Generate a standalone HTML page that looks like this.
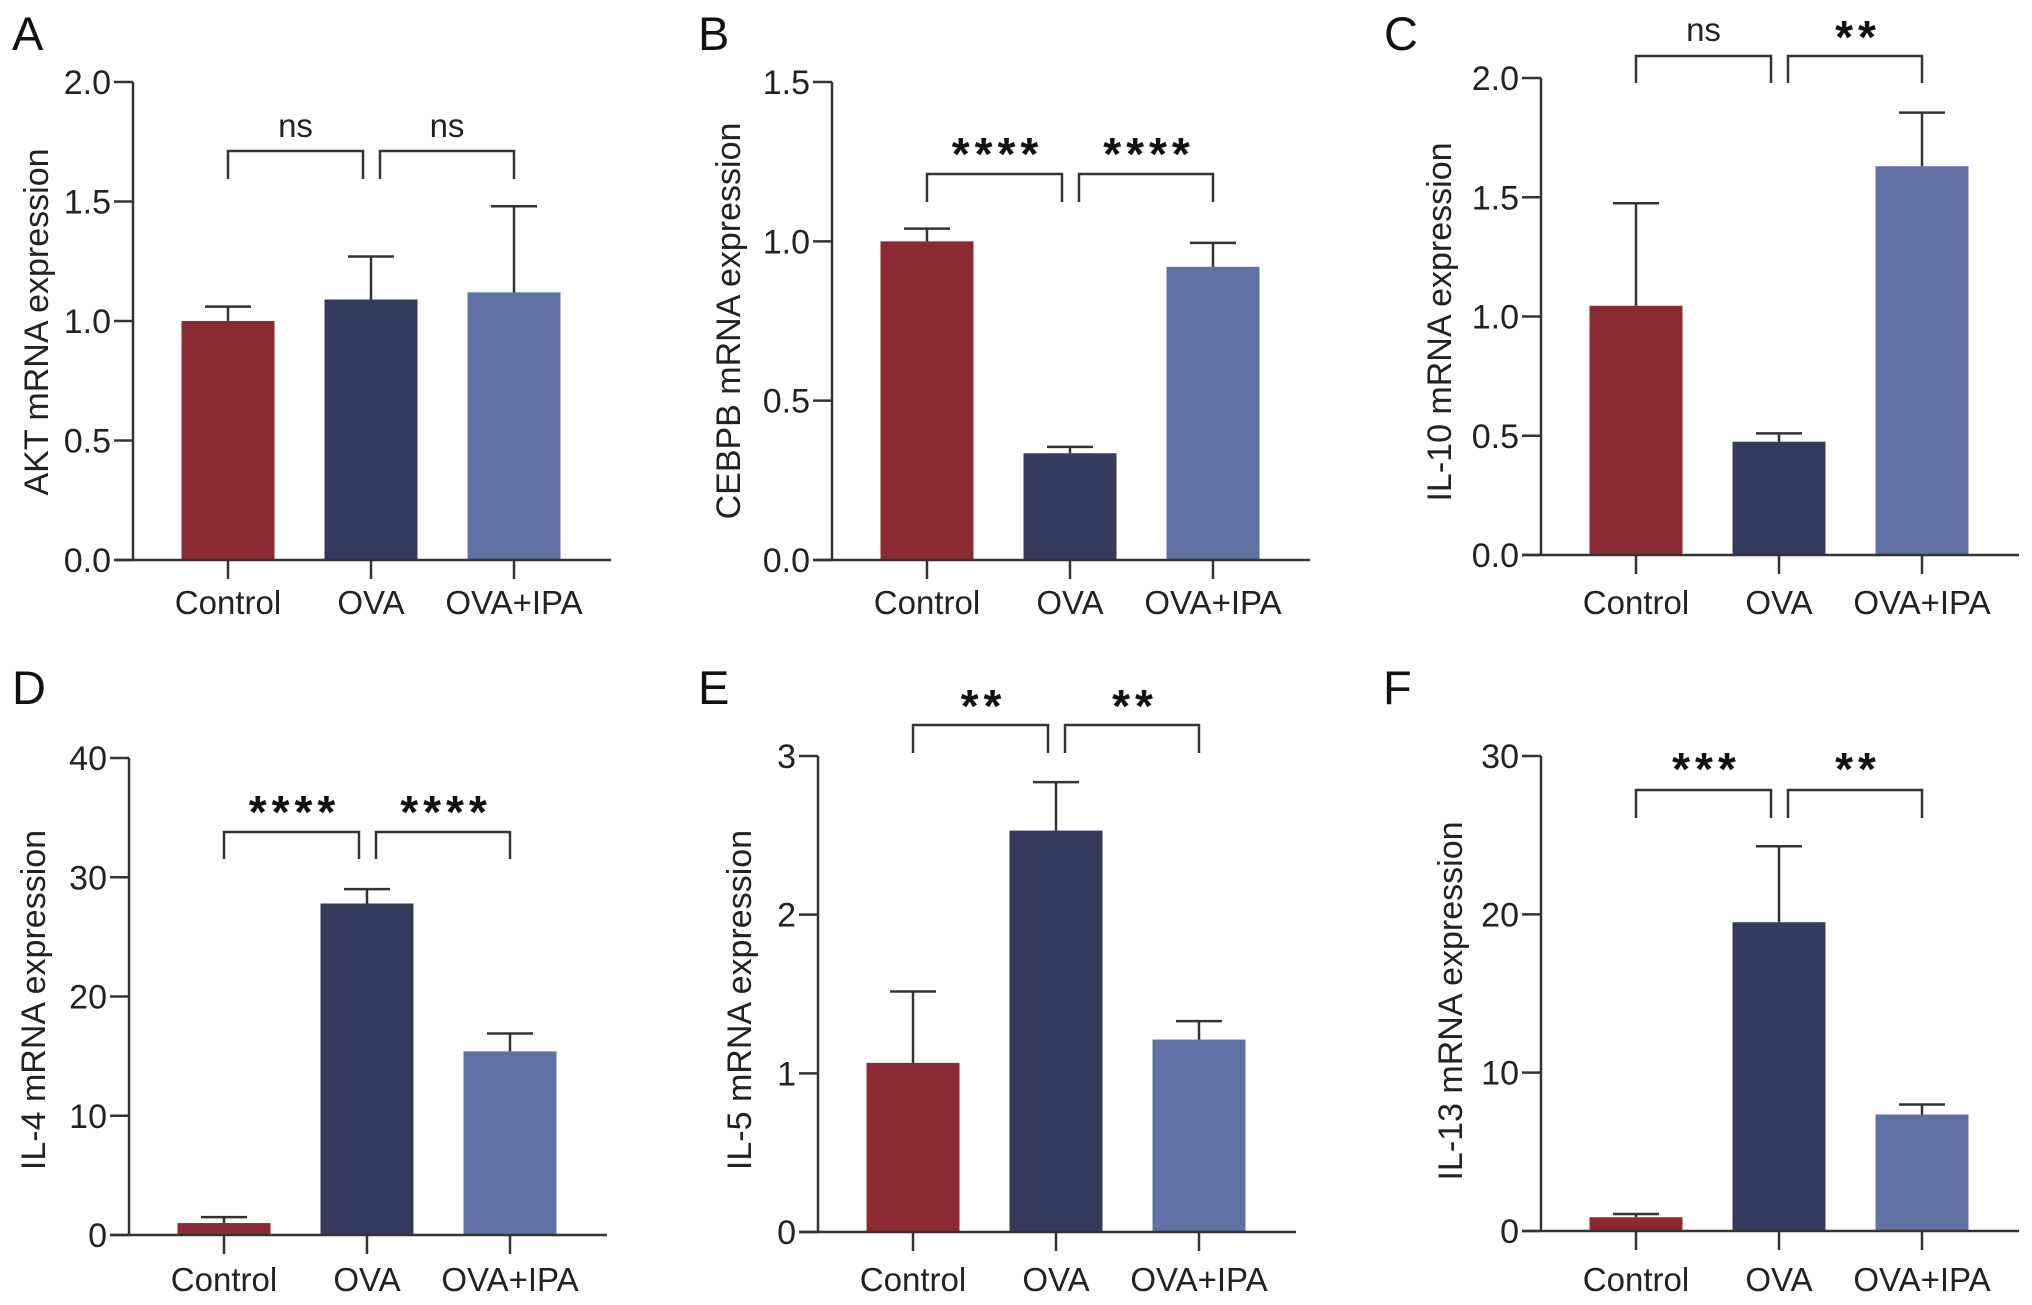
<!DOCTYPE html>
<html><head><meta charset="utf-8"><style>
html,body{margin:0;padding:0;background:#fff;}
svg{display:block;font-family:"Liberation Sans",Arial,sans-serif;}
</style></head><body>
<svg id="fig" width="2032" height="1305" viewBox="0 0 2032 1305" xmlns="http://www.w3.org/2000/svg"></svg>
<script>
const categories = ["Control","OVA","OVA+IPA"];
const aktMeans = [1.0, 1.09, 1.12];
const aktErrors = [0.06, 0.18, 0.36];
const cebpbMeans = [1.0, 0.335, 0.92];
const cebpbErrors = [0.04, 0.02, 0.075];
const il10Means = [1.045, 0.475, 1.63];
const il10Errors = [0.43, 0.035, 0.225];
const il4Means = [1.0, 27.8, 15.4];
const il4Errors = [0.5, 1.2, 1.5];
const il5Means = [1.066, 2.53, 1.213];
const il5Errors = [0.45, 0.305, 0.116];
const il13Means = [0.87, 19.5, 7.36];
const il13Errors = [0.2, 4.8, 0.63];
const aktTicks = ["0.0","0.5","1.0","1.5","2.0"];
const cebpbTicks = ["0.0","0.5","1.0","1.5"];
const il10Ticks = ["0.0","0.5","1.0","1.5","2.0"];
const il4Ticks = ["0","10","20","30","40"];
const il5Ticks = ["0","1","2","3"];
const il13Ticks = ["0","10","20","30"];
const aktSig = ["ns","ns"];
const cebpbSig = ["****","****"];
const il10Sig = ["ns","**"];
const il4Sig = ["****","****"];
const il5Sig = ["**","**"];
const il13Sig = ["***","**"];

const colors = ["#8c2a31","#353b5c","#5f72a3"];
const NS = "http://www.w3.org/2000/svg";
const svg = document.getElementById('fig');
function mk(tag, attrs, parent, text){
  const e = document.createElementNS(NS, tag);
  for (const k in attrs) e.setAttribute(k, attrs[k]);
  if (text !== undefined) e.textContent = text;
  (parent||svg).appendChild(e);
  return e;
}
const panels = [
  {id:"akt", letter:"A", title:"AKT mRNA expression", means:aktMeans, errs:aktErrors, ticks:aktTicks, sig:aktSig,
   ax:133, y0:560, yTop:82, lx:12, ly:50, tx:36, ty:322, labY:614, brY:151, brDrop:28, sigY:[137,137]},
  {id:"cebpb", letter:"B", title:"CEBPB mRNA expression", means:cebpbMeans, errs:cebpbErrors, ticks:cebpbTicks, sig:cebpbSig,
   ax:832, y0:560, yTop:82, lx:698, ly:50, tx:728, ty:321, labY:614, brY:174, brDrop:28, sigY:[144,144]},
  {id:"il10", letter:"C", title:"IL-10 mRNA expression", means:il10Means, errs:il10Errors, ticks:il10Ticks, sig:il10Sig,
   ax:1541, y0:555, yTop:78, lx:1384, ly:50, tx:1439, ty:322, labY:614, brY:56, brDrop:27, sigY:[41,27]},
  {id:"il4", letter:"D", title:"IL-4 mRNA expression", means:il4Means, errs:il4Errors, ticks:il4Ticks, sig:il4Sig,
   ax:129, y0:1235, yTop:758, lx:12, ly:704, tx:33, ty:1000, labY:1291, brY:832, brDrop:27, sigY:[802,802]},
  {id:"il5", letter:"E", title:"IL-5 mRNA expression", means:il5Means, errs:il5Errors, ticks:il5Ticks, sig:il5Sig,
   ax:818, y0:1232, yTop:756, lx:698, ly:704, tx:739, ty:1000, labY:1291, brY:725, brDrop:28, sigY:[696,696]},
  {id:"il13", letter:"F", title:"IL-13 mRNA expression", means:il13Means, errs:il13Errors, ticks:il13Ticks, sig:il13Sig,
   ax:1541, y0:1231, yTop:756, lx:1383, ly:704, tx:1450, ty:1001, labY:1291, brY:790, brDrop:28, sigY:[759,759]}
];
const stroke = "#333";
panels.forEach(p => {
  const g = mk('g', {});
  
  
  const tmin = parseFloat(p.ticks[0]), tmax = parseFloat(p.ticks[p.ticks.length-1]);
  const yS = v => p.y0 - (v - tmin) / (tmax - tmin) * (p.y0 - p.yTop);
  const xS = i => p.ax + 95 + i * 143;
  const bw = 93;
  const L = mk('text', {x:p.lx, y:p.ly, 'font-size':47, fill:'#111'}, g, p.letter);
  
  
  p.means.forEach((m, i) => {
    const r = mk('rect', {x:xS(i)-bw/2, y:yS(m), width:bw, height:p.y0 - yS(m), fill:colors[i]}, g);
    
    
    const top = yS(m + p.errs[i]);
    const e = mk('path', {d:`M${xS(i)} ${yS(m)}V${top}M${xS(i)-23} ${top}H${xS(i)+23}`, stroke:stroke, 'stroke-width':2.5, fill:'none'}, g);
    
    
  });
  const ya = mk('path', {d:`M${p.ax} ${p.yTop}V${p.y0}`, stroke:stroke, 'stroke-width':2.5, fill:'none'}, g);
  
  
  const xa = mk('path', {d:`M${p.ax-19} ${p.y0}H${p.ax+478}`, stroke:stroke, 'stroke-width':2.5, fill:'none'}, g);
  
  
  p.ticks.forEach(t => {
    const y = yS(parseFloat(t));
    mk('path', {d:`M${p.ax-19} ${y}H${p.ax}`, stroke:stroke, 'stroke-width':2.5}, g);
    const tl = mk('text', {x:p.ax-22, y:y+12, 'font-size':34, 'text-anchor':'end', fill:'#222'}, g, t);
    
    
  });
  categories.forEach((c, i) => {
    mk('path', {d:`M${xS(i)} ${p.y0}V${p.y0+19}`, stroke:stroke, 'stroke-width':2.5}, g);
    const cl = mk('text', {x:xS(i), y:p.labY, 'font-size':33, 'text-anchor':'middle', fill:'#222'}, g, c);
    
    
  });
  const tt = mk('text', {x:0, y:0, 'font-size':34, 'text-anchor':'middle', fill:'#222', transform:`translate(${p.tx+12},${p.ty}) rotate(-90)`}, g, p.title);
  
  
  const pairs = [[xS(0), xS(1)-8], [xS(1)+9, xS(2)]];
  pairs.forEach((pr, k) => {
    const b = mk('path', {d:`M${pr[0]} ${p.brY+p.brDrop}V${p.brY}H${pr[1]}V${p.brY+p.brDrop}`, stroke:stroke, 'stroke-width':2.5, fill:'none'}, g);
    
    
    const s = p.sig[k];
    const cx = (pr[0] + pr[1]) / 2;
    let st;
    if (s === 'ns') {
      st = mk('text', {x:cx, y:p.sigY[k], 'font-size':33, 'text-anchor':'middle', fill:'#222'}, g, s);
    } else {
      st = mk('text', {x:cx+3, y:p.sigY[k]+26, 'font-size':46, 'font-weight':'bold', 'letter-spacing':5, 'text-anchor':'middle', fill:'#111'}, g, s);
    }
    
    
  });
});
</script>
</body></html>
